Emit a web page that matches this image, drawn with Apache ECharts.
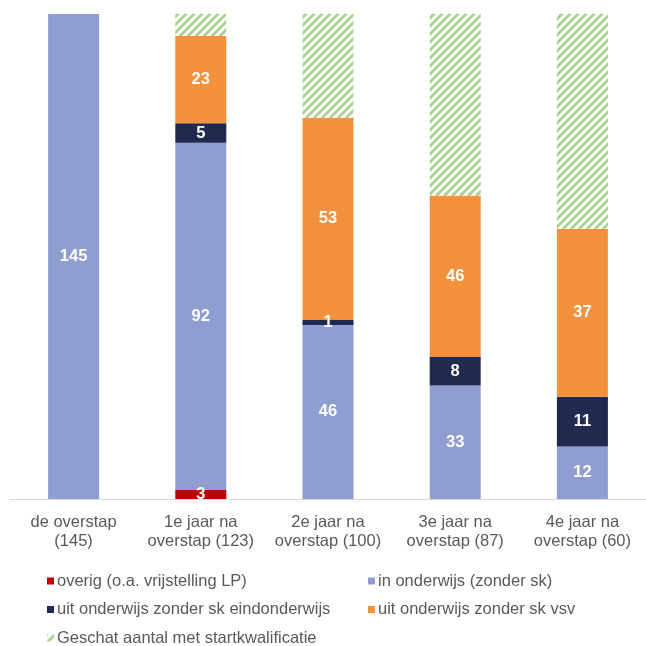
<!DOCTYPE html>
<html>
<head>
<meta charset="utf-8">
<script src="https://cdn.jsdelivr.net/npm/echarts@6/dist/echarts.min.js"></script>
<style>html,body{margin:0;padding:0;background:#fff}#c{width:646px;height:646px}</style>
</head>
<body>
<div id="c"></div>
<script>
const categories = ['de overstap\n(145)', '1e jaar na\noverstap (123)', '2e jaar na\noverstap (100)', '3e jaar na\noverstap (87)', '4e jaar na\noverstap (60)'];
const seriesNames = ['overig (o.a. vrijstelling LP)', 'in onderwijs (zonder sk)', 'uit onderwijs zonder sk eindonderwijs', 'uit onderwijs zonder sk vsv', 'Geschat aantal met startkwalificatie'];
// bar share (% of bar height)
const overigShare   = [0, 1.86, 0, 0, 0];
const onderwijsShare = [100, 71.6, 35.9, 23.4, 10.8];
const eindShare     = [0, 4.0, 1.03, 5.86, 10.3];
const vsvShare      = [0, 18.0, 41.7, 33.3, 34.6];
const geschatShare  = [0, 4.54, 21.4, 37.5, 44.3];
// count labels
const overigCount   = [null, 3, null, null, null];
const onderwijsCount = [145, 92, 46, 33, 12];
const eindCount     = [null, 5, 1, 8, 11];
const vsvCount      = [null, 23, 53, 46, 37];

const colors = ['#c00000', '#8f9dd0', '#21294f', '#f4913c', '#a9d18e'];

// hatch pattern
const tile = document.createElement('canvas');
tile.width = 8; tile.height = 8;
const tc = tile.getContext('2d');
tc.fillStyle = '#ffffff'; tc.fillRect(0, 0, 8, 8);
tc.strokeStyle = '#a9d18e'; tc.lineWidth = 2.8;
tc.beginPath();
tc.moveTo(-2, 2); tc.lineTo(2, -2);
tc.moveTo(0, 8); tc.lineTo(8, 0);
tc.moveTo(6, 10); tc.lineTo(10, 6);
tc.stroke();

function lab(counts) {
  return {
    show: true, position: 'inside', color: '#ffffff', fontWeight: 'bold',
    fontSize: 16.5, fontFamily: 'Liberation Sans, Arial, sans-serif',
    formatter: p => counts[p.dataIndex] == null ? '' : String(counts[p.dataIndex])
  };
}
function mk(name, data, color, counts) {
  return {
    name, type: 'bar', stack: 'a', data, barWidth: 51,
    itemStyle: { color },
    label: counts ? lab(counts) : { show: false },
    emphasis: { disabled: true },
    animation: false
  };
}

const chart = echarts.init(document.getElementById('c'), null, { renderer: 'canvas' });
const legendText = { fontSize: 16.5, color: '#595959', fontFamily: 'Liberation Sans, Arial, sans-serif', lineHeight: 20, padding: [0, 0, 0, -2] };
chart.setOption({
  animation: false,
  grid: { left: 10, right: -5, top: 14, bottom: 147 },
  xAxis: {
    type: 'category', data: categories,
    axisLine: { lineStyle: { color: '#d9d9d9', width: 1 } },
    axisTick: { show: false },
    axisLabel: { interval: 0, color: '#595959', fontSize: 16.5, lineHeight: 19, margin: 14,
      fontFamily: 'Liberation Sans, Arial, sans-serif' }
  },
  yAxis: { type: 'value', min: 0, max: 100, show: false, splitLine: { show: false } },
  legend: [
    { data: [seriesNames[0], seriesNames[2], seriesNames[4]], orient: 'vertical', left: 47, top: 571, height: 90, padding: 0,
      itemWidth: 7, itemHeight: 7, itemGap: 8.5, textStyle: legendText, icon: 'rect', selectedMode: false },
    { data: [seriesNames[1], seriesNames[3]], orient: 'vertical', left: 368, top: 571, height: 90, padding: 0,
      itemWidth: 7, itemHeight: 7, itemGap: 8.5, textStyle: legendText, icon: 'rect', selectedMode: false }
  ],
  series: [
    mk(seriesNames[0], overigShare, colors[0], overigCount),
    mk(seriesNames[1], onderwijsShare, colors[1], onderwijsCount),
    mk(seriesNames[2], eindShare, colors[2], eindCount),
    mk(seriesNames[3], vsvShare, colors[3], vsvCount),
    mk(seriesNames[4], geschatShare, { image: tile, repeat: 'repeat' }, null)
  ]
});
</script>
</body>
</html>
